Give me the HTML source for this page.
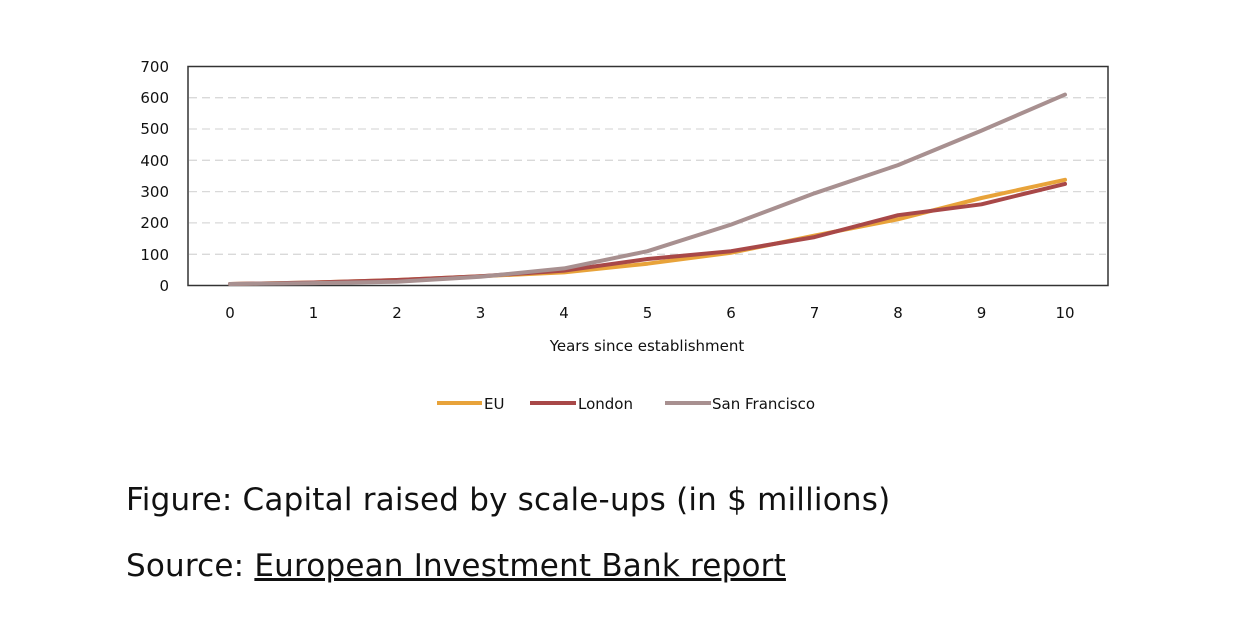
<!DOCTYPE html>
<html><head><meta charset="utf-8"><style>
body{margin:0;background:#fff;width:1250px;height:618px;overflow:hidden;font-family:"DejaVu Sans","Liberation Sans",sans-serif}
.cap{position:absolute;left:126px;font-size:31px;letter-spacing:0.2px;color:#111;font-family:"DejaVu Sans","Liberation Sans",sans-serif;white-space:nowrap}
</style></head><body>
<svg width="1250" height="618" style="position:absolute;left:0;top:0" font-family="DejaVu Sans, Liberation Sans, sans-serif">
<g stroke="#d9d9d9" stroke-width="1.3" stroke-dasharray="8,5">
<line x1="189" x2="1106" y1="97.7" y2="97.7"/><line x1="189" x2="1106" y1="129" y2="129"/>
<line x1="189" x2="1106" y1="160.3" y2="160.3"/><line x1="189" x2="1106" y1="191.6" y2="191.6"/>
<line x1="189" x2="1106" y1="222.9" y2="222.9"/><line x1="189" x2="1106" y1="254.3" y2="254.3"/>
</g>
<rect x="188" y="66.5" width="920" height="219" fill="none" stroke="#333" stroke-width="1.5"/>
<g font-size="15" fill="#111" text-anchor="end">
<text x="169" y="72">700</text><text x="169" y="103">600</text><text x="169" y="134">500</text>
<text x="169" y="166">400</text><text x="169" y="197">300</text><text x="169" y="228">200</text>
<text x="169" y="260">100</text><text x="169" y="291">0</text>
</g>
<g font-size="15" fill="#111" text-anchor="middle">
<text x="230" y="318">0</text><text x="313.5" y="318">1</text><text x="397" y="318">2</text><text x="480.5" y="318">3</text>
<text x="564" y="318">4</text><text x="647.5" y="318">5</text><text x="731" y="318">6</text><text x="814.5" y="318">7</text>
<text x="898" y="318">8</text><text x="981.5" y="318">9</text><text x="1065" y="318">10</text>
<text x="647" y="351">Years since establishment</text>
</g>
<g fill="none" stroke-width="4" stroke-linejoin="round" stroke-linecap="round">
<polyline stroke="#E8A33A" points="230,284 313.5,282.5 397,280 480.5,276.2 564,272.4 647.5,263.7 731,252.8 814.5,235.6 898,219.3 981.5,198 1065,179.8"/>
<polyline stroke="#A84848" points="230,284 313.5,282.5 397,280 480.5,276.2 564,270.6 647.5,259 731,251.2 814.5,237.1 898,215.2 981.5,204.3 1065,183.9"/>
<polyline stroke="#A89090" points="230,284 313.5,283.1 397,281.8 480.5,276.8 564,268.4 647.5,251.2 731,224.6 814.5,193.3 898,165.1 981.5,130.6 1065,94.6"/>
</g>
<g stroke-width="4">
<line x1="437" x2="482" y1="403" y2="403" stroke="#E8A33A"/>
<line x1="530" x2="576" y1="403" y2="403" stroke="#A84848"/>
<line x1="665" x2="711" y1="403" y2="403" stroke="#A89090"/>
</g>
<g font-size="15" fill="#111">
<text x="484" y="409">EU</text><text x="578" y="409">London</text><text x="712" y="409">San Francisco</text>
</g>
</svg>
<div class="cap" style="top:482px">Figure: Capital raised by scale-ups (in $ millions)</div>
<div class="cap" style="top:548px">Source: <span style="text-decoration:underline">European Investment Bank report</span></div>
</body></html>
